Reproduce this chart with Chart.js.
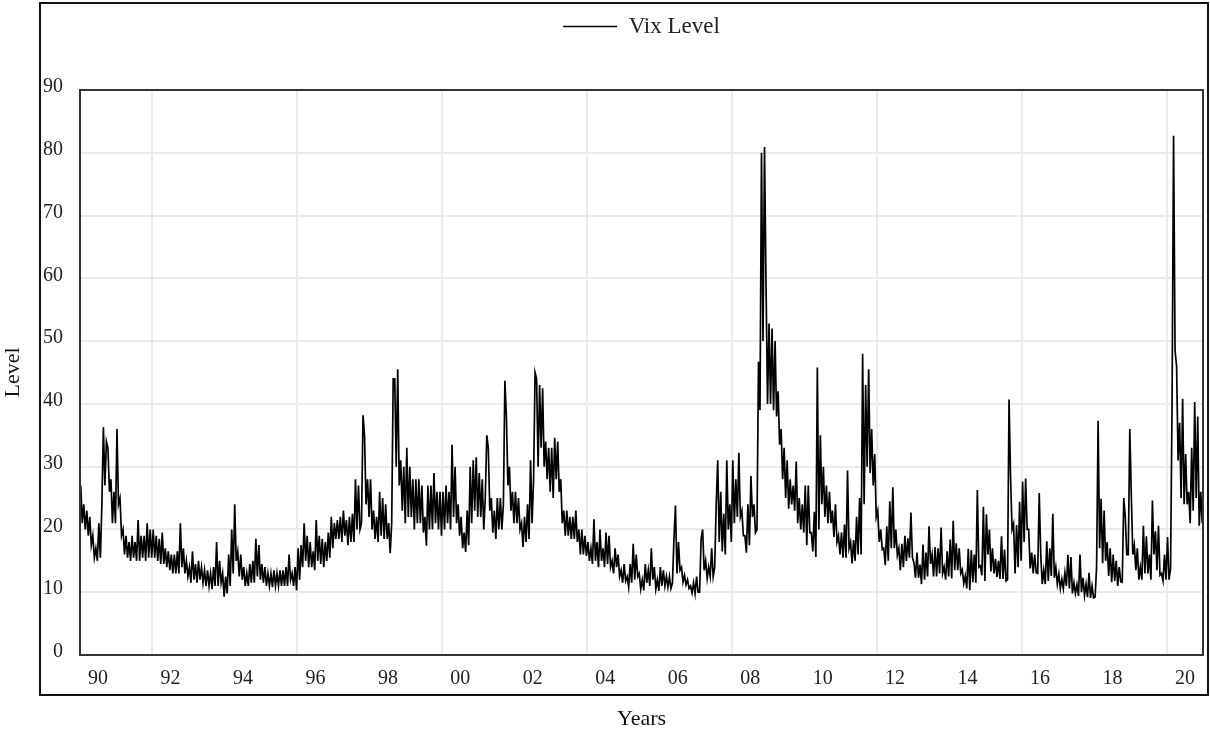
<!DOCTYPE html>
<html>
<head>
<meta charset="utf-8">
<title>Vix Level</title>
<script src="https://cdn.jsdelivr.net/npm/chart.js@4.4.1/dist/chart.umd.min.js"></script>
<style>
  body { margin: 0; background: #fff; }
  canvas { display: block; }
</style>
</head>
<body>
<canvas id="vixChart" width="1210" height="740"></canvas>
<script>
// Série mensal: dois valores por mês (máximo / mínimo aproximados)
const startYear = 1990;
const samplesPerMonth = 2;
const vixLevels = [
  27, 21, 24, 20, 23, 19, 22, 17.5, 19, 15.5, 17, 15, 21, 15.5, 24, 36.3, 27, 34, 33, 26, 28, 21, 26, 21,             // 1990
  36, 24, 25, 19, 20, 16, 19, 15.5, 18, 15, 19, 15.5, 18, 15, 21.5, 15, 19, 15.5, 19, 15, 21, 15.5, 20, 15.5,        // 1991
  20, 15.5, 19, 15, 18.5, 14.5, 19.5, 14.5, 17, 14, 16.5, 13.5, 16, 13, 16, 13, 16.5, 13, 21, 14, 17, 13, 15, 12.5,  // 1992
  14, 11.5, 16.5, 12, 14.5, 11.5, 15, 12, 14, 11.5, 13.5, 11, 13.5, 11, 13, 10.5, 14, 11, 18, 11, 15, 11.5, 13, 9.3, // 1993
  12.5, 9.8, 16, 11, 20, 13, 24, 15, 16.5, 12.5, 16, 12, 14, 11, 13, 11, 14.5, 11.5, 15, 11.5, 18.5, 12.5, 17.5, 12, // 1994
  14.5, 11.5, 14, 11, 13, 11, 13, 10.8, 13.5, 11, 13, 11, 13.5, 11, 13.5, 11, 14, 11, 16, 12, 13, 11, 14, 10.3,      // 1995
  17, 12, 17.5, 14, 21, 15, 19, 14, 18, 14, 16.5, 13.5, 21.5, 15, 19, 14.5, 18.5, 14, 18, 15, 19.5, 15.5, 22, 17,    // 1996
  21, 18.5, 21.5, 18.5, 22, 18, 23, 19, 21.5, 17.5, 22, 18, 22.5, 18, 28, 20, 27, 20, 21, 38.2, 35, 24, 28, 22,      // 1997
  28, 20, 23, 18.5, 22, 18, 26, 19, 25, 18.5, 24, 18.5, 21, 16.2, 21, 44, 44, 30, 45.5, 27, 31, 23, 30, 21,          // 1998
  33, 22, 30, 22, 28, 20, 28, 21, 28, 21, 27, 19.5, 22, 17.4, 27, 20, 27, 20, 29, 21, 26, 20, 26, 19,                // 1999
  26, 20, 27, 21, 26, 20, 33.5, 22, 30, 21, 24, 19, 22, 17, 19.5, 16.4, 23, 17.5, 30, 21, 31, 23, 31.5, 22,          // 2000
  29, 22, 28, 20, 25, 35, 33, 23, 25, 19.5, 23, 18.5, 25, 20, 25, 20, 24, 43.7, 38, 27, 30, 23, 26, 21,              // 2001
  26, 21, 25, 20, 21, 17.2, 22, 18, 24, 18.5, 31, 21, 28, 45, 44, 30, 43, 33, 42.5, 30, 34, 28, 33, 26,              // 2002
  33, 25, 34.6, 28, 34, 26, 28, 21, 23, 19, 23, 19, 22, 18.5, 22, 18.5, 23, 18, 20, 16, 20, 16, 19, 15.8,            // 2003
  18, 15, 17, 14.5, 21.6, 15, 18, 14, 20, 15, 17, 14, 19.5, 14.5, 19, 14, 15, 13, 17, 14, 16, 12.5, 13.5, 11.5,      // 2004
  14.5, 11.8, 12.5, 10.8, 14.5, 11.5, 17.7, 12, 16, 12.5, 13, 10.5, 12, 10.3, 14.5, 11.5, 13.5, 11, 17, 12, 14, 10.5, 12, 10.2, // 2005
  14, 11, 13.5, 11, 12.5, 10.8, 12.5, 10.6, 11.5, 18.5, 23.8, 13, 18, 13.5, 14, 11.6, 12.7, 11.2, 12, 10.6, 11, 9.9, 11.5, 9.8, // 2006
  12.5, 10, 10, 18.5, 20, 13.5, 15, 12.2, 14, 12.5, 17, 12.5, 14, 24, 31, 18, 26, 16.5, 22.5, 16, 31, 20, 24, 18,    // 2007
  31, 21, 28, 22, 32.2, 22, 23, 19, 19, 16.3, 24, 17.5, 28.5, 22, 24, 19.5, 20, 46.7, 39, 80, 50, 80.9, 59, 40,      // 2008
  52.8, 40, 52, 39, 50, 38, 42, 33.5, 36, 28, 33, 25, 31, 23.3, 28, 24, 27, 23, 30.8, 21, 25, 20, 24, 19.5,          // 2009
  27, 17.5, 27, 19.5, 19.5, 16.5, 22.8, 15.6, 45.8, 20, 35, 24, 30, 22, 27, 21, 26, 21, 23, 18.8, 24, 18, 19, 16,    // 2010
  19.5, 15.5, 20.8, 15.5, 29.4, 17, 18, 14.6, 18.3, 15, 22, 16, 25, 16, 48, 24, 43, 30, 45.5, 29, 36, 27, 32, 22,    // 2011
  23, 18, 20, 16.8, 17, 14.3, 20.5, 15, 24.5, 17, 26.7, 17, 20, 15.9, 17, 13.5, 17.7, 14, 19, 15, 18.6, 15.5, 22.7, 15.5, // 2012
  14.7, 12.3, 16.3, 12.3, 14.4, 11.3, 17.6, 12, 16.3, 12.5, 20.5, 14.5, 16, 12.5, 17.2, 12.5, 17, 13, 20.3, 13, 14, 12, 16.5, 12.5, // 2013
  18.4, 12.2, 21.4, 13.5, 17.8, 13.5, 17, 13, 13.6, 11.4, 12.6, 10.6, 16.9, 10.3, 16.7, 11.6, 16, 11.5, 26.3, 14, 14.2, 12.7, 23.6, 11.8, // 2014
  22.4, 16, 20, 13.3, 17, 13, 15.3, 12.4, 15, 12.1, 18.9, 12.1, 16.8, 11.8, 12, 40.7, 28.4, 20, 20.9, 13, 20.7, 14, 24.4, 15, // 2015
  27.6, 18, 28.1, 20, 20, 13.8, 16.3, 13, 16, 13.1, 13, 25.8, 16, 11.3, 13.5, 11.3, 18.1, 11.8, 17, 12.6, 22.5, 12.3, 14, 11.3, // 2016
  12.9, 10.6, 12.1, 10.6, 13.1, 11, 15.96, 10.6, 15.6, 9.8, 11.5, 9.8, 11.2, 9.4, 16, 10, 12.3, 9.5, 11.3, 9.2, 13.1, 9.1, 11, 9.1, // 2017
  9.2, 14, 37.3, 17, 24.9, 14.6, 23, 15, 18, 12.6, 17, 11.6, 16, 11.8, 15, 11, 14, 11.7, 11.6, 25, 22, 16, 16, 36,   // 2018
  25.5, 16, 17.5, 13.5, 17, 12, 14, 12, 20.6, 13, 18.9, 13, 16, 12, 24.6, 16, 19.7, 13.5, 20.6, 12.7, 13, 11.8, 16, 12, // 2019
  18.8, 12, 13.7, 40, 82.7, 48.5, 46, 31, 37, 25, 40.8, 24, 32, 24, 26, 21, 33, 23, 40.3, 25, 38, 20.6, 26, 21       // 2020
];

const labelYears = [1990, 1992, 1994, 1996, 1998, 2000, 2002, 2004, 2006, 2008, 2010, 2012, 2014, 2016, 2018, 2020];
const gridYears = [1992, 1996, 2000, 2004, 2008, 2012, 2016, 2020];
const endYear = 2021;

const serifFont = '"Liberation Serif", "Times New Roman", serif';

// Moldura do gráfico e caixa externa
const framePlugin = {
    id: 'frame',
    afterInit(chart) {
        // Reserva espaço abaixo da legenda até a área do gráfico
        const legend = chart.legend;
        if (legend) {
            const fit = legend.fit;
            legend.fit = function() {
                fit.call(this);
                this.height = 85;
            };
        }
    },
    afterDraw(chart) {
        const { ctx, chartArea: a } = chart;
        ctx.save();
        ctx.strokeStyle = '#333';
        ctx.lineWidth = 2;
        ctx.strokeRect(a.left, a.top, a.right - a.left, a.bottom - a.top);
        ctx.strokeStyle = '#111';
        ctx.strokeRect(40, 3, 1168, 692);
        ctx.restore();
    }
};

const points = vixLevels.map((v, i) => ({
    x: startYear + (i + 0.5) / (12 * samplesPerMonth),
    y: v
}));

new Chart(document.getElementById('vixChart'), {
    type: 'line',
    data: {
        datasets: [{
            label: 'Vix Level',
            data: points,
            borderColor: '#000',
            backgroundColor: '#000',
            borderWidth: 1.7,
            pointRadius: 0,
            tension: 0
        }]
    },
    options: {
        responsive: false,
        animation: false,
        layout: { padding: { top: 5, right: 7, bottom: 0, left: 0 } },
        plugins: {
            legend: {
                position: 'top',
                fullSize: false,
                labels: {
                    usePointStyle: true,
                    pointStyle: 'line',
                    pointStyleWidth: 54,
                    padding: 10,
                    color: '#222',
                    font: { family: serifFont, size: 23 }
                }
            },
            tooltip: { enabled: false }
        },
        scales: {
            x: {
                type: 'linear',
                min: startYear,
                max: endYear,
                afterFit: s => { s.height = 85; },
                afterBuildTicks: s => {
                    const t = labelYears.map(y => ({ value: y + 0.5 }))
                        .concat(gridYears.map(y => ({ value: y })));
                    s.ticks = t.sort((p, q) => p.value - q.value);
                },
                grid: {
                    color: c => (c.tick && gridYears.includes(c.tick.value)) ? '#ebebeb' : 'rgba(0,0,0,0)',
                    lineWidth: 2,
                    drawTicks: false
                },
                border: { display: false },
                ticks: {
                    autoSkip: false,
                    maxRotation: 0,
                    padding: 12,
                    color: '#222',
                    font: { family: serifFont, size: 20 },
                    callback: v => labelYears.includes(v - 0.5) ? String(v - 0.5).slice(2) : ''
                },
                title: {
                    display: true,
                    text: 'Years',
                    color: '#111',
                    padding: { top: 0, bottom: 8 },
                    font: { family: serifFont, size: 22 }
                }
            },
            y: {
                min: 0,
                max: 90,
                afterFit: s => { s.width = 80; },
                grid: { color: '#ebebeb', lineWidth: 2, drawTicks: false },
                border: { display: false },
                ticks: {
                    stepSize: 10,
                    padding: 17,
                    labelOffset: -3,
                    color: '#222',
                    font: { family: serifFont, size: 20 }
                },
                title: {
                    display: true,
                    text: 'Level',
                    color: '#111',
                    padding: { top: 0, bottom: 0 },
                    font: { family: serifFont, size: 22 }
                }
            }
        }
    },
    plugins: [framePlugin]
});
</script>
</body>
</html>
